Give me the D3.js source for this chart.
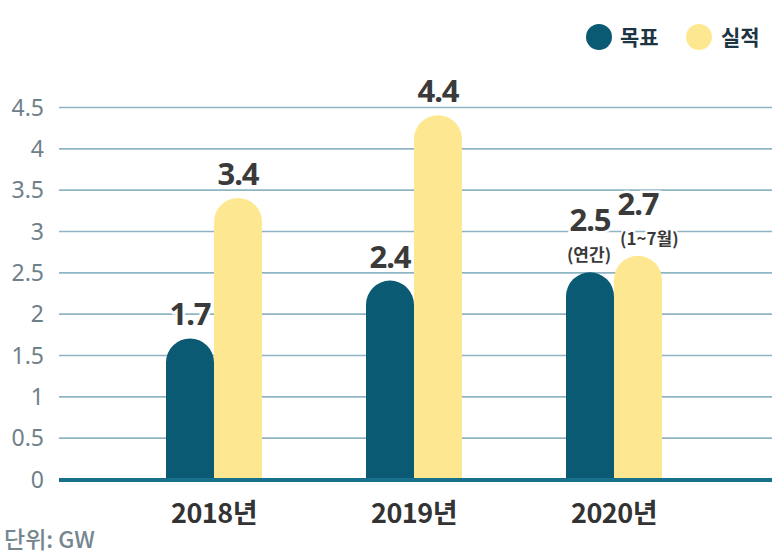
<!DOCTYPE html>
<html><head><meta charset="utf-8">
<script src="https://cdn.jsdelivr.net/npm/d3@7"></script>
<style>
html,body{margin:0;padding:0;background:#fff;}
svg{display:block;font-family:"Noto Sans CJK KR","Noto Sans",sans-serif;}
</style></head>
<body>
<svg id="c" width="779" height="560"></svg>
<script>
const categories = ["2018년", "2019년", "2020년"];
const seriesNames = ["목표", "실적"];
const targetValues = [1.7, 2.4, 2.5];
const actualValues = [3.4, 4.4, 2.7];
const targetNotes = ["", "", "(연간)"];
const actualNotes = ["", "", "(1~7월)"];
const yTicks = [0, 0.5, 1, 1.5, 2, 2.5, 3, 3.5, 4, 4.5];
const unitLabel = "단위: GW";

const colors = {"목표": "#0b5a73", "실적": "#fde891"};
const svg = d3.select("#c");

const y = d3.scaleLinear().domain([0, 4.5]).range([479, 107]);
const x0 = d3.scaleBand().domain(categories).range([114, 714]).padding(0);
const barW = 48;
const x1 = d3.scaleBand().domain(seriesNames)
  .range([x0.bandwidth()/2 - barW, x0.bandwidth()/2 + barW]).padding(0);

// grid
const yAxis = d3.axisLeft(y).tickValues(yTicks).tickSize(-(772 - 59)).tickPadding(15)
  .tickFormat(d => d3.format("~g")(d));
const gy = svg.append("g").attr("transform", "translate(59,0)").call(yAxis);
gy.select(".domain").remove();
gy.selectAll(".tick line").attr("stroke", "#8fb4c3").attr("stroke-width", 1.6)
  .attr("stroke-opacity", d => d === 0 ? 0 : 1);
gy.selectAll(".tick text").attr("fill", "#6f8089").attr("font-size", 23)
  .attr("font-family", "'Noto Sans','Noto Sans CJK KR',sans-serif").attr("dy", "0.35em");

// data rows
const rows = categories.map((c, i) => ({
  cat: c,
  bars: [
    {s: "목표", v: targetValues[i], note: targetNotes[i]},
    {s: "실적", v: actualValues[i], note: actualNotes[i]}
  ]
}));

function barPath(x, w, v) {
  const r = w / 2;
  const yb = y(0), yt = y(v);
  return `M${x},${yb} L${x},${yt + r} A${r},${r} 0 0 1 ${x + w},${yt + r} L${x + w},${yb} Z`;
}

const groups = svg.append("g").selectAll("g").data(rows).join("g")
  .attr("transform", d => `translate(${x0(d.cat)},0)`);

groups.selectAll("path").data(d => d.bars).join("path")
  .attr("d", d => barPath(x1(d.s), x1.bandwidth(), d.v))
  .attr("fill", d => colors[d.s]);

// baseline
svg.append("line").attr("x1", 59).attr("x2", 772).attr("y1", y(0) + 1).attr("y2", y(0) + 1)
  .attr("stroke", "#17708c").attr("stroke-width", 4);

// value labels
const lab = groups.selectAll("g.lab").data(d => d.bars).join("g").attr("class", "lab");
lab.append("text")
  .attr("x", d => x1(d.s) + x1.bandwidth()/2)
  .attr("y", d => d.note ? y(d.v) - 11 - 30 : y(d.v) - 13)
  .attr("text-anchor", "middle")
  .attr("font-size", 31).attr("font-weight", 700).attr("fill", "#3a3a3a")
  .attr("stroke", "#fff").attr("stroke-width", 5).attr("paint-order", "stroke")
  .attr("font-family", "'Noto Sans','Noto Sans CJK KR',sans-serif")
  .attr("letter-spacing", -1)
  .text(d => d3.format(".1f")(d.v));
lab.filter(d => d.note).append("text")
  .attr("x", d => d.s === "실적" ? x1(d.s) + 6 : x1(d.s) + x1.bandwidth()/2 - 1)
  .attr("y", d => y(d.v) - 11)
  .attr("text-anchor", d => d.s === "실적" ? "start" : "middle")
  .attr("font-size", 17).attr("font-weight", 700).attr("fill", "#3a3a3a")
  .attr("stroke", "#fff").attr("stroke-width", 4).attr("paint-order", "stroke")
  .text(d => d.note);

// x axis labels
const xAxis = d3.axisBottom(x0).tickSize(0).tickPadding(0);
const gx = svg.append("g").attr("transform", `translate(0,${y(0)})`).call(xAxis);
gx.select(".domain").remove();
gx.selectAll(".tick text").attr("dy", 0).attr("y", 44)
  .attr("font-size", 27).attr("font-weight", 700).attr("fill", "#333")
  .attr("font-family", "'Noto Sans CJK KR',sans-serif").attr("letter-spacing", -0.5);

// unit
svg.append("text").attr("x", 4).attr("y", 548).attr("font-size", 23).attr("font-weight", 500)
  .attr("fill", "#76868f").text(unitLabel);

// legend
const leg = svg.append("g").selectAll("g").data(seriesNames).join("g")
  .attr("transform", (d, i) => `translate(${599 + i * 100},37)`);
leg.append("circle").attr("r", 13).attr("fill", d => colors[d]);
leg.append("text").attr("x", d => d === "목표" ? 21 : 22).attr("y", 0).attr("dy", "0.36em")
  .attr("font-size", 21).attr("font-weight", 700).attr("fill", "#1d3442").text(d => d);
</script>
</body></html>
